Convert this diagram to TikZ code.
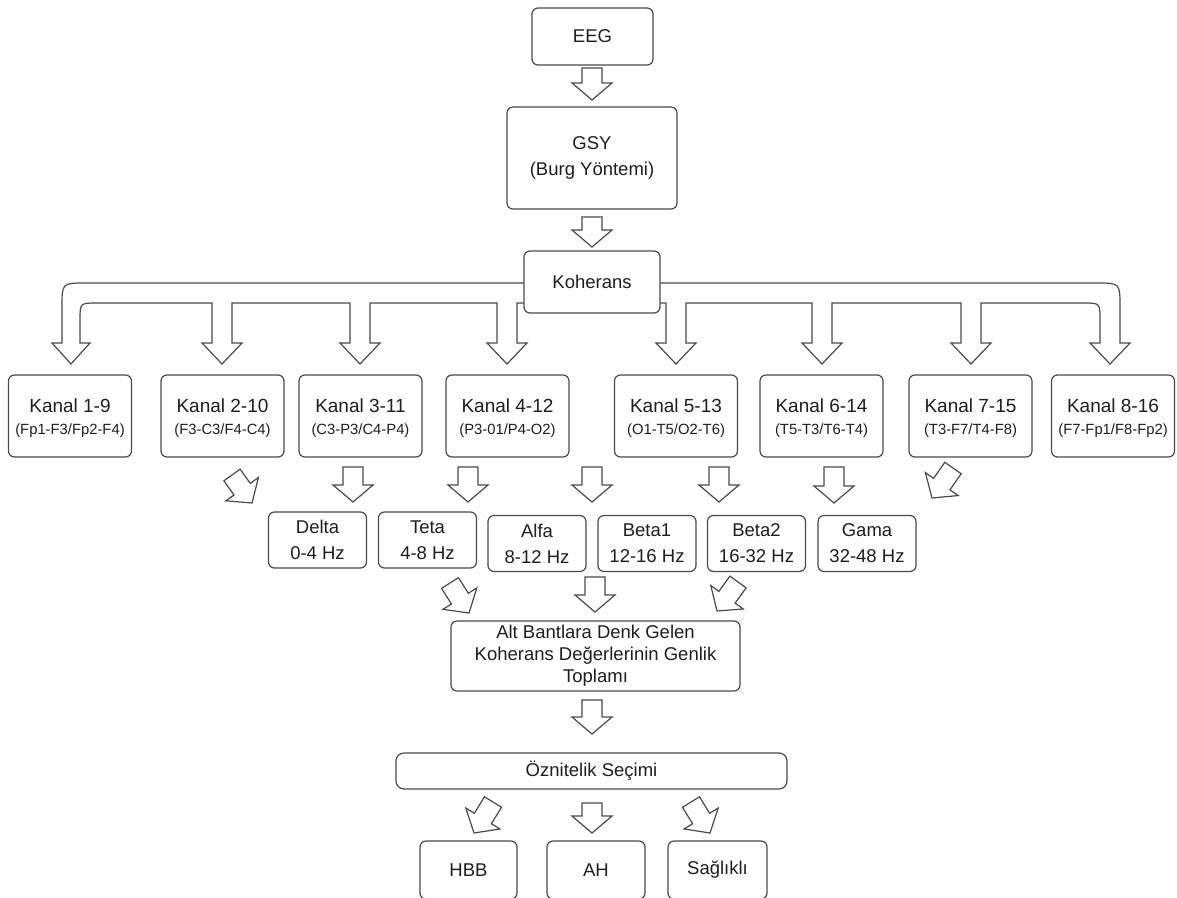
\documentclass[tikz,border=0pt]{standalone}
\usepackage{fontspec}
\setmainfont{Liberation Sans}
\usetikzlibrary{calc}
\definecolor{linec}{HTML}{4A4A4A}
\definecolor{txtc}{HTML}{1E1E1E}
\tikzset{
  box/.style={draw=linec, line width=1.2pt, rounded corners=6pt, fill=white, inner sep=0pt,
    text=txtc, align=center},
  lbl/.style={inner sep=0pt, text=txtc},
  harr/.style={draw=linec, line width=1.2pt, fill=white, line join=miter},
  fbig/.style={font=\fontsize{18.5}{26}\selectfont},
}
\newcommand\hollow[2]{%
  \coordinate (ta) at (#1);
  \coordinate (tb) at (#2);
  \path ($(tb)!17pt!(ta)$) coordinate (hb);
  \draw[harr] ($(ta)!10pt!90:(tb)$) -- ($(hb)!10pt!-90:(ta)$) -- ($(hb)!20pt!-90:(ta)$) -- (tb)
    -- ($(hb)!20pt!90:(ta)$) -- ($(hb)!10pt!90:(ta)$) -- ($(ta)!10pt!-90:(tb)$) -- cycle;
}
\newcommand\kanal[4]{%
  \node[box, minimum width=123pt, minimum height=82pt] (#1) at (#2,416) {};
  \node[lbl, font=\fontsize{19}{21}\selectfont] (#1m) at (#2,406) {#3};
  \node[lbl, font=\fontsize{14.8}{16}\selectfont] (#1s) at (#2,431) {#4};
}
\newcommand\band[5]{%
  \node[box, fbig, minimum width=98pt, minimum height=56pt] (#1) at (#2,#3) {#4\\#5};
}
\begin{document}
\begin{tikzpicture}[x=1pt,y=-1pt]
\useasboundingbox (0,0) rectangle (1177,897);
\clip (0,0) rectangle (1177,897);
\fill[white] (0,0) rectangle (1177,897);

% top chain
\node[box, fbig, minimum width=121pt, minimum height=57pt] (eeg) at (592.5,36.5) {EEG};
\node[box, fbig, minimum width=170pt, minimum height=102pt] (gsy) at (592,158) {GSY\\(Burg Yöntemi)};
\hollow{592,68}{592,100}
\hollow{592,217}{592,247}

% big distribution band
\draw[harr] (86,283) -- (1096,283) .. controls (1120,283) .. (1120,307) -- (1120,343)
  -- (1130,343) -- (1110,364) -- (1090,343) -- (1100,343) -- (1100,320) .. controls (1100,303) .. (1083,303)
  -- (981,303) -- (981,343) -- (991,343) -- (971,364) -- (951,343) -- (961,343) -- (961,303)
  -- (832,303) -- (832,343) -- (842,343) -- (822,364) -- (802,343) -- (812,343) -- (812,303)
  -- (686,303) -- (686,343) -- (696,343) -- (676,364) -- (656,343) -- (666,343) -- (666,303)
  -- (517,303) -- (517,343) -- (527,343) -- (507,364) -- (487,343) -- (497,343) -- (497,303)
  -- (370,303) -- (370,343) -- (380,343) -- (360,364) -- (340,343) -- (350,343) -- (350,303)
  -- (232,303) -- (232,343) -- (242,343) -- (222,364) -- (202,343) -- (212,343) -- (212,303)
  -- (97,303) .. controls (80,303) .. (80,320) -- (80,343) -- (90,343) -- (71,364) -- (52,343)
  -- (62,343) -- (62,307) .. controls (62,283) .. (86,283) -- cycle;
\node[box, fbig, minimum width=136pt, minimum height=62pt] (koh) at (592,282) {Koherans};

% channel boxes
\kanal{k1}{70}{Kanal 1-9}{(Fp1-F3/Fp2-F4)}
\kanal{k2}{222.5}{Kanal 2-10}{(F3-C3/F4-C4)}
\kanal{k3}{360.5}{Kanal 3-11}{(C3-P3/C4-P4)}
\kanal{k4}{507.5}{Kanal 4-12}{(P3-01/P4-O2)}
\kanal{k5}{676}{Kanal 5-13}{(O1-T5/O2-T6)}
\kanal{k6}{821.5}{Kanal 6-14}{(T5-T3/T6-T4)}
\kanal{k7}{970.5}{Kanal 7-15}{(T3-F7/T4-F8)}
\kanal{k8}{1113}{Kanal 8-16}{(F7-Fp1/F8-Fp2)}

% arrows to bands
\hollow{232,475}{252,503}
\hollow{353,467}{353,502}
\hollow{468,467}{468,502}
\hollow{592,467}{592,502}
\hollow{719,467}{719,502}
\hollow{834,467}{834,503}
\hollow{953,468}{932,498}

% band boxes
\band{delta}{317.5}{540}{Delta}{0-4 Hz}
\band{teta}{427.5}{540}{Teta}{4-8 Hz}
\band{alfa}{537}{543.5}{Alfa}{8-12 Hz}
\band{beta1}{647}{543.5}{Beta1}{12-16 Hz}
\band{beta2}{756.5}{543.5}{Beta2}{16-32 Hz}
\band{gama}{867}{543.5}{Gama}{32-48 Hz}

% arrows to sum
\hollow{450,583}{469,613}
\hollow{595,577}{595,612}
\hollow{738,582}{717,611}

\node[box, font=\fontsize{18.5}{22}\selectfont, minimum width=289pt, minimum height=70pt] (alt) at (595.5,656)
  {Alt Bantlara Denk Gelen\\Koherans Değerlerinin Genlik\\Toplamı};
\hollow{592,700}{592,734}

\node[box, fbig, rounded corners=8pt, minimum width=391pt, minimum height=36pt] (ozn) at (591.5,771) {Öznitelik Seçimi};

\hollow{493,802}{474,833}
\hollow{592,803}{592,833}
\hollow{691,802}{710,833}

\node[box, fbig, minimum width=97pt, minimum height=58pt] (hbb) at (468.5,870) {HBB};
\node[box, fbig, minimum width=98pt, minimum height=58pt] (ah) at (596,870) {AH};
\node[box, fbig, minimum width=99pt, minimum height=58pt] (sag) at (717.5,870) {Sağlıklı};
\end{tikzpicture}
\end{document}
